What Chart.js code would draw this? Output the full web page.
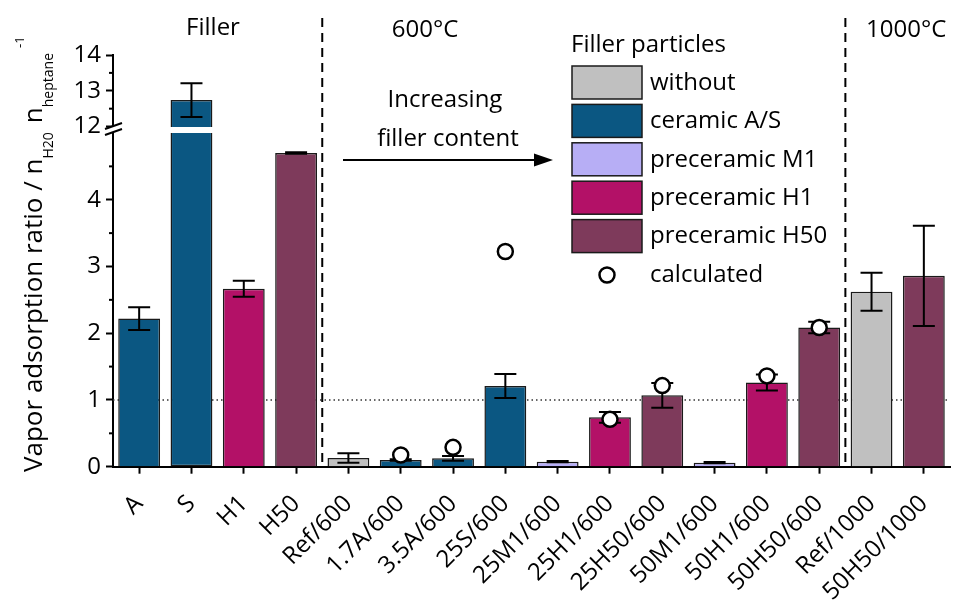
<!DOCTYPE html>
<html>
<head>
<meta charset="utf-8">
<script src="https://cdn.jsdelivr.net/npm/chart.js@4.4.1/dist/chart.umd.min.js"></script>
<style>
  html, body { margin: 0; padding: 0; background: #fff; overflow: hidden; }
  canvas { display: block; }
</style>
</head>
<body>
<canvas id="chartId" width="960" height="605"></canvas>
<script>
// data
const categories = ['A', 'S', 'H1', 'H50', 'Ref/600', '1.7A/600', '3.5A/600', '25S/600', '25M1/600',
  '25H1/600', '25H50/600', '50M1/600', '50H1/600', '50H50/600', 'Ref/1000', '50H50/1000'];
const fillerType = ['ceramic', 'ceramic', 'H1', 'H50', 'without', 'ceramic', 'ceramic', 'ceramic', 'M1',
  'H1', 'H50', 'M1', 'H1', 'H50', 'without', 'H50'];
const ratio = [2.22, 12.74, 2.665, 4.70, 0.13, 0.10, 0.125, 1.21, 0.075, 0.74, 1.07, 0.06, 1.26, 2.085, 2.62, 2.86];
const ratioErr = [0.17, 0.47, 0.12, 0.01, 0.07, 0.01, 0.035, 0.18, 0.01, 0.08, 0.185, 0.01, 0.12, 0.087, 0.285, 0.75];
const calculated = [null, null, null, null, null, 0.175, 0.29, 3.225, null, 0.71, 1.215, null, 1.36, 2.085, null, null];

const legendKeys = ['without', 'ceramic', 'M1', 'H1', 'H50'];
const legendLabels = ['without', 'ceramic A/S', 'preceramic M1', 'preceramic H1', 'preceramic H50'];

const lowTicks = [0, 1, 2, 3, 4];
const highTicks = [12, 13, 14];

// axis ranges (broken axis)
const yLowMax = 5;
const yHighMin = 11.82;
const yHighMax = 14;
const breakValue = 11.99;

const fillerColors = {
  without: '#c0c0c0',
  ceramic: '#0b5782',
  M1: '#b7aef5',
  H1: '#b31167',
  H50: '#7e3a5b'
};

const FONT = "'Open Sans', 'Noto Sans', sans-serif";
Chart.defaults.font.family = FONT;
Chart.defaults.color = '#000';

function txt(ctx, s, x, y, size, align, base) {
  ctx.font = size + 'px ' + FONT;
  ctx.textAlign = align || 'left';
  ctx.textBaseline = base || 'middle';
  ctx.fillStyle = '#000';
  ctx.fillText(s, x, y);
}

const extras = {
  id: 'extras',
  beforeDatasetsDraw(chart) {
    // dotted reference line at ratio 1
    const ctx = chart.ctx, area = chart.chartArea;
    const py = chart.scales.y.getPixelForValue(1);
    ctx.save();
    ctx.strokeStyle = '#333';
    ctx.lineWidth = 1.5;
    ctx.setLineDash([1.5, 3]);
    ctx.beginPath();
    ctx.moveTo(area.left, py);
    ctx.lineTo(area.right, py);
    ctx.stroke();
    ctx.restore();
  },
  afterDatasetDraw(chart, args) {
    if (args.index !== 1) return;
    // error bars, drawn before the calculated circles
    const ctx = chart.ctx;
    const x = chart.scales.x;
    ctx.save();
    ctx.strokeStyle = '#000';
    ctx.lineWidth = 2;
    ratio.forEach((v, i) => {
      const sc = v > yLowMax ? chart.scales.y2 : chart.scales.y;
      const px = x.getPixelForValue(i);
      const top = sc.getPixelForValue(v + ratioErr[i]);
      const bot = sc.getPixelForValue(v - ratioErr[i]);
      ctx.beginPath();
      ctx.moveTo(px, top); ctx.lineTo(px, bot);
      ctx.moveTo(px - 11, top); ctx.lineTo(px + 11, top);
      ctx.moveTo(px - 11, bot); ctx.lineTo(px + 11, bot);
      ctx.stroke();
    });
    ctx.restore();
  },
  afterDraw(chart) {
    const ctx = chart.ctx, area = chart.chartArea;
    const x = chart.scales.x, yl = chart.scales.y, yh = chart.scales.y2;
    ctx.save();

    // minor ticks
    ctx.strokeStyle = '#000';
    ctx.lineWidth = 2;
    [yl, yh].forEach(sc => {
      sc.ticks.forEach(t => {
        if (Number.isInteger(t.value) || (sc === yl && t.value >= yLowMax)) return;
        const py = sc.getPixelForValue(t.value);
        ctx.beginPath();
        ctx.moveTo(area.left - 4, py);
        ctx.lineTo(area.left, py);
        ctx.stroke();
      });
    });

    // axis break
    const b = yl.top;
    ctx.fillStyle = '#fff';
    ctx.fillRect(area.left - 3, b - 6, 6, 5);
    ctx.beginPath();
    ctx.moveTo(area.left - 8, b - 4); ctx.lineTo(area.left + 9, b - 10);
    ctx.moveTo(area.left - 8, b + 2); ctx.lineTo(area.left + 9, b - 4);
    ctx.stroke();

    // dashed separators between groups
    ctx.setLineDash([9, 6]);
    [3, 13].forEach(i => {
      const px = (x.getPixelForValue(i) + x.getPixelForValue(i + 1)) / 2;
      ctx.beginPath();
      ctx.moveTo(px, 18);
      ctx.lineTo(px, area.bottom);
      ctx.stroke();
    });
    ctx.setLineDash([]);

    // group headings
    txt(ctx, 'Filler', 213, 28, 24, 'center');
    txt(ctx, '600°C', 425, 30, 24, 'center');
    txt(ctx, '1000°C', 866, 30, 24, 'left');
    txt(ctx, 'Increasing', 445, 100, 24, 'center');
    txt(ctx, 'filler content', 448, 139, 24, 'center');

    // arrow
    ctx.beginPath();
    ctx.moveTo(343, 160); ctx.lineTo(536, 160);
    ctx.stroke();
    ctx.fillStyle = '#000';
    ctx.beginPath();
    ctx.moveTo(553, 160); ctx.lineTo(534, 153.5); ctx.lineTo(534, 166.5);
    ctx.closePath();
    ctx.fill();

    // legend
    txt(ctx, 'Filler particles', 571, 45, 24);
    legendKeys.forEach((k, i) => {
      const top = 66 + i * 38.4;
      ctx.fillStyle = fillerColors[k];
      ctx.fillRect(572, top, 70, 33);
      ctx.strokeStyle = '#1a1a1a';
      ctx.lineWidth = 1.5;
      ctx.strokeRect(572, top, 70, 33);
      txt(ctx, legendLabels[i], 650, top + 17, 24);
    });
    ctx.beginPath();
    ctx.arc(607, 275, 7.5, 0, Math.PI * 2);
    ctx.fillStyle = '#fff';
    ctx.fill();
    ctx.strokeStyle = '#000';
    ctx.lineWidth = 2.5;
    ctx.stroke();
    txt(ctx, 'calculated', 650, 275, 24);

    // y axis title with sub/superscripts
    ctx.translate(42, 472);
    ctx.rotate(-Math.PI / 2);
    let cx = 0;
    const part = (s, size, dy) => {
      ctx.font = size + 'px ' + FONT;
      ctx.textAlign = 'left';
      ctx.textBaseline = 'alphabetic';
      ctx.fillStyle = '#000';
      ctx.fillText(s, cx, dy);
      cx += ctx.measureText(s).width;
    };
    part('Vapor adsorption ratio / n', 26, 0);
    part('H20', 14, 11);
    cx += 9;
    part('n', 26, 0);
    part('heptane', 14, 11);
    cx += 5;
    part('-1', 13, -18);
    ctx.restore();
  }
};

const chrt = document.getElementById('chartId').getContext('2d');

const chartConfig = {
  type: 'bar',
  data: {
    labels: categories,
    datasets: [{
      type: 'line',
      label: 'calculated',
      data: calculated,
      yAxisID: 'y',
      showLine: false,
      pointRadius: 7.5,
      pointHoverRadius: 7.5,
      pointBackgroundColor: '#fff',
      pointBorderColor: '#000',
      pointBorderWidth: 2.5,
      order: 0
    }, {
      label: 'ratio',
      data: ratio.map(v => Math.min(v, yLowMax)),
      yAxisID: 'y',
      backgroundColor: fillerType.map(k => fillerColors[k]),
      borderColor: '#1a1a1a',
      borderWidth: 1.5,
      borderSkipped: c => ratio[c.dataIndex] > yLowMax ? 'top' : 'start',
      barPercentage: 0.8,
      categoryPercentage: 1,
      grouped: false,
      order: 1
    }, {
      label: 'ratio (upper)',
      data: ratio.map(v => v > yLowMax ? v : null),
      yAxisID: 'y2',
      base: breakValue,
      backgroundColor: fillerType.map(k => fillerColors[k]),
      borderColor: '#1a1a1a',
      borderWidth: 1.5,
      borderSkipped: 'start',
      barPercentage: 0.8,
      categoryPercentage: 1,
      grouped: false,
      order: 2
    }]
  },
  options: {
    responsive: false,
    animation: false,
    devicePixelRatio: 1,
    layout: { padding: { top: 55, right: 0.6, left: 0, bottom: 0 } },
    plugins: { legend: { display: false }, tooltip: { enabled: false } },
    scales: {
      x: {
        type: 'category',
        offset: true,
        grid: { offset: false, drawOnChartArea: false, tickLength: 7, tickWidth: 2, tickColor: '#000' },
        border: { color: '#000', width: 2 },
        ticks: { minRotation: 45, maxRotation: 45, autoSkip: false, padding: 16, font: { size: 24 }, color: '#000' },
        afterFit: s => { s.height = 138.3; s.paddingLeft = 0; s.paddingRight = 0; }
      },
      y: {
        type: 'linear',
        position: 'left',
        stack: 'ratio',
        stackWeight: 333.7,
        min: 0,
        max: yLowMax,
        grid: {
          drawOnChartArea: false, tickLength: 7, tickWidth: 2,
          tickColor: c => lowTicks.includes(c.tick.value) ? '#000' : 'rgba(0,0,0,0)'
        },
        border: { color: '#000', width: 2 },
        ticks: {
          stepSize: 0.5, autoSkip: false, padding: 5, font: { size: 24 }, color: '#000',
          callback: v => lowTicks.includes(v) ? String(v) : ''
        },
        afterFit: s => { s.width = 113; }
      },
      y2: {
        type: 'linear',
        position: 'left',
        stack: 'ratio',
        stackWeight: 78,
        min: yHighMin,
        max: yHighMax,
        grid: {
          drawOnChartArea: false, tickLength: 7, tickWidth: 2,
          tickColor: c => highTicks.includes(c.tick.value) ? '#000' : 'rgba(0,0,0,0)'
        },
        border: { color: '#000', width: 2 },
        ticks: {
          stepSize: 0.5, autoSkip: false, includeBounds: false, padding: 5, font: { size: 24 }, color: '#000',
          callback: v => highTicks.includes(v) ? String(v) : ''
        },
        afterFit: s => { s.width = 113; }
      }
    }
  },
  plugins: [extras]
};

window.doughnutChart = new Chart(chrt, chartConfig);
</script>
</body>
</html>
